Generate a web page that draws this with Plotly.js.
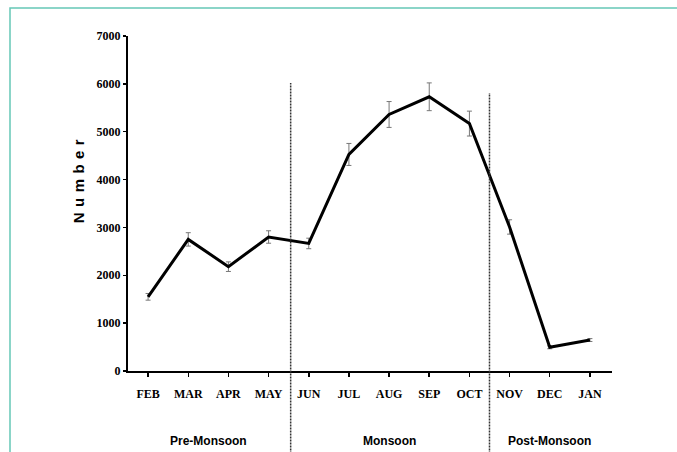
<!DOCTYPE html>
<html><head><meta charset="utf-8">
<script src="https://cdn.plot.ly/plotly-3.0.1.min.js"></script>
<style>html,body{margin:0;padding:0;background:#fff;}#chart{width:677px;height:452px;}</style>
</head><body><div id="chart"></div>
<script>
var months = ["FEB","MAR","APR","MAY","JUN","JUL","AUG","SEP","OCT","NOV","DEC","JAN"];
var numbers = [1550, 2750, 2180, 2800, 2665, 4525, 5360, 5730, 5170, 3010, 495, 647];
var errors = [70, 140, 100, 130, 110, 230, 270, 290, 260, 150, 30, 30];
var yTicks = [0, 1000, 2000, 3000, 4000, 5000, 6000, 7000];
var seasons = ["Pre-Monsoon", "Monsoon", "Post-Monsoon"];
var seasonCenters = [1.5, 6, 10];
var seasonBreaks = [3.55, 8.5];
var yTitle = "N \u200Au \u200Am \u200Ab \u200Ae \u200Ar";

var trace = {
  x: months, y: numbers, type: 'scatter', mode: 'lines',
  line: {color: '#000', width: 3},
  error_y: {type: 'data', array: errors, visible: true, color: '#777', thickness: 1, width: 2.5},
  showlegend: false, hoverinfo: 'skip'
};

var shapes = seasonBreaks.map(function(b, i){
  return {type: 'line', xref: 'x', yref: 'paper', x0: b, x1: b, y0: -0.3, y1: i === 0 ? 0.86 : 0.83,
          line: {color: '#333', width: 1.5, dash: '2px,1px'}, layer: 'above'};
});
shapes.push({type: 'rect', xref: 'paper', yref: 'paper', x0: -0.2438, x1: 1.159, y0: -0.3, y1: 1.0836,
             line: {color: '#66c8b6', width: 1.5}, fillcolor: 'rgba(0,0,0,0)', layer: 'below'});

var annotations = seasons.map(function(s, i){
  return {text: s, xref: 'x', yref: 'paper', x: seasonCenters[i], y: -0.209, showarrow: false,
          xanchor: 'center', yanchor: 'middle',
          font: {family: '"Liberation Sans", Arial, sans-serif', size: 12, color: '#000', weight: 'bold'}};
});
annotations.push({text: yTitle, xref: 'paper', yref: 'paper', x: -0.103, y: 0.567, showarrow: false,
  textangle: -90, xanchor: 'center', yanchor: 'middle',
  font: {family: '"Liberation Sans", Arial, sans-serif', size: 15, color: '#000', weight: 'bold'}});

var layout = {
  width: 677, height: 452,
  margin: {l: 128, r: 65, t: 36, b: 81},
  paper_bgcolor: '#fff', plot_bgcolor: '#fff',
  xaxis: {
    type: 'category', range: [-0.5, 11.55], showgrid: false, zeroline: false,
    showline: true, linecolor: '#000', linewidth: 2,
    ticks: 'outside', ticklen: 4, tickwidth: 1.5, tickcolor: '#000',
    ticklabelstandoff: 7,
    tickfont: {family: '"Liberation Serif", serif', size: 12, color: '#000', weight: 'bold'}
  },
  yaxis: {
    range: [0, 7000], tickvals: yTicks, ticktext: yTicks.map(String),
    showgrid: false, zeroline: false,
    showline: true, linecolor: '#000', linewidth: 2,
    ticks: 'outside', ticklen: 3, tickwidth: 1.5, tickcolor: '#000',
    tickfont: {family: '"Liberation Serif", serif', size: 12, color: '#000', weight: 'bold'}
  },
  shapes: shapes,
  annotations: annotations
};

Plotly.newPlot('chart', [trace], layout, {displayModeBar: false, staticPlot: true});
</script>
</body></html>
